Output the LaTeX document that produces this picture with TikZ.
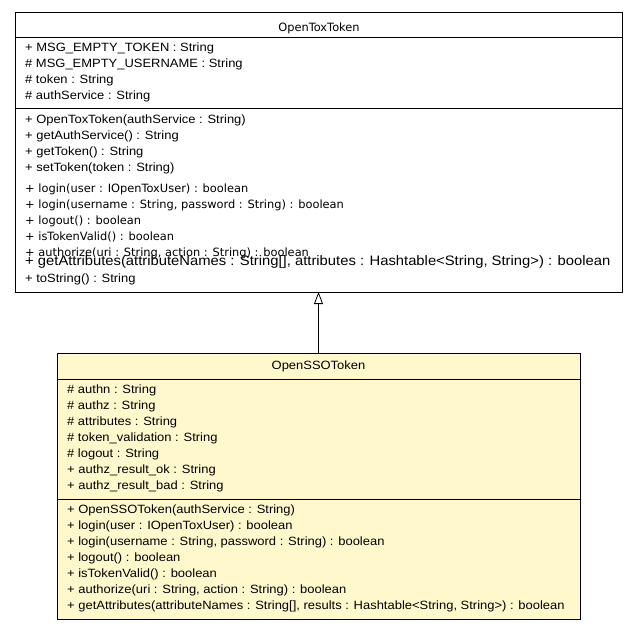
\documentclass[tikz,border=0pt]{standalone}
\usepackage{fontspec}
\usepackage{xcolor}
\usepackage{tikz}
\usetikzlibrary{arrows.meta}
\newfontfamily\umlfont[FakeStretch=1.08]{Liberation Sans}
\newfontfamily\umlsmallfont{DejaVu Sans}
\definecolor{ssofill}{HTML}{FFF8CC}
\newcommand{\membfont}{\umlfont\fontsize{12}{14}\selectfont}
\newcommand{\smallfont}{\umlsmallfont\fontsize{11.4}{13}\selectfont}
\newcommand{\bigfont}{\umlfont\fontsize{13.7}{15}\selectfont}

\begin{document}
\begin{tikzpicture}[x=1pt, y=-1pt,
  part/.style={draw, line width=0.8pt, anchor=north west, inner sep=0pt, outer sep=0pt},
  memb/.style={anchor=base west, inner sep=0pt, font=\membfont},
  smallmemb/.style={anchor=base west, inner sep=0pt, font=\smallfont},
  classname/.style={anchor=base, inner sep=0pt}]
\useasboundingbox (0,0) rectangle (637,629);

% OpenToxToken
\node[part, minimum width=607pt, minimum height=25pt] (toxname) at (15,12) {};
\node[part, minimum width=607pt, minimum height=71pt] (toxattr) at (toxname.south west) {};
\node[part, minimum width=607pt, minimum height=184pt] (toxops) at (toxattr.south west) {};
\node[classname, font=\smallfont] (toxtitle) at (319,31) {OpenToxToken};
\foreach \txt [count=\i from 0] in {{+ MSG\_EMPTY\_TOKEN : String},
    {\# MSG\_EMPTY\_USERNAME : String}, {\# token : String}, {\# authService : String}}
  \node[memb] (toxattr\i) at (25,51+16*\i) {\txt};
\foreach \txt [count=\i from 0] in {{+ OpenToxToken(authService : String)},
    {+ getAuthService() : String}, {+ getToken() : String}, {+ setToken(token : String)}}
  \node[memb] (toxop\i) at (25,123+16*\i) {\txt};
\foreach \txt [count=\i from 0] in {{+ login(user : IOpenToxUser) : boolean},
    {+ login(username : String, password : String) : boolean}, {+ logout() : boolean},
    {+ isTokenValid() : boolean}, {+ authorize(uri : String, action : String) : boolean}}
  \node[smallmemb] (toxsop\i) at (25,192+16*\i) {\txt};
\node[memb, font=\bigfont] (toxattrs) at (25,265)
  {+ getAttributes(attributeNames : String[], attributes : Hashtable<String, String>) : boolean};
\node[memb] (toxstr) at (25,282) {+ toString() : String};

% OpenSSOToken
\node[part, fill=ssofill, minimum width=523pt, minimum height=26pt] (ssoname) at (57,353) {};
\node[part, fill=ssofill, minimum width=523pt, minimum height=120pt] (ssoattr) at (ssoname.south west) {};
\node[part, fill=ssofill, minimum width=523pt, minimum height=120pt] (ssoops) at (ssoattr.south west) {};
\node[classname, font=\membfont] (ssotitle) at (318.5,369) {OpenSSOToken};
\foreach \txt [count=\i from 0] in {{\# authn : String}, {\# authz : String},
    {\# attributes : String}, {\# token\_validation : String}, {\# logout : String},
    {+ authz\_result\_ok : String}, {+ authz\_result\_bad : String}}
  \node[memb] (ssoattr\i) at (67,393+16*\i) {\txt};
\foreach \txt [count=\i from 0] in {{+ OpenSSOToken(authService : String)},
    {+ login(user : IOpenToxUser) : boolean},
    {+ login(username : String, password : String) : boolean}, {+ logout() : boolean},
    {+ isTokenValid() : boolean}, {+ authorize(uri : String, action : String) : boolean},
    {+ getAttributes(attributeNames : String[], results : Hashtable<String, String>) : boolean}}
  \node[memb] (ssoop\i) at (67,513+16*\i) {\txt};

% inheritance
\draw[-{Triangle[open, length=12pt, width=9pt]}, line width=0.8pt] (ssoname.north) -- (toxops.south);
\end{tikzpicture}
\end{document}
